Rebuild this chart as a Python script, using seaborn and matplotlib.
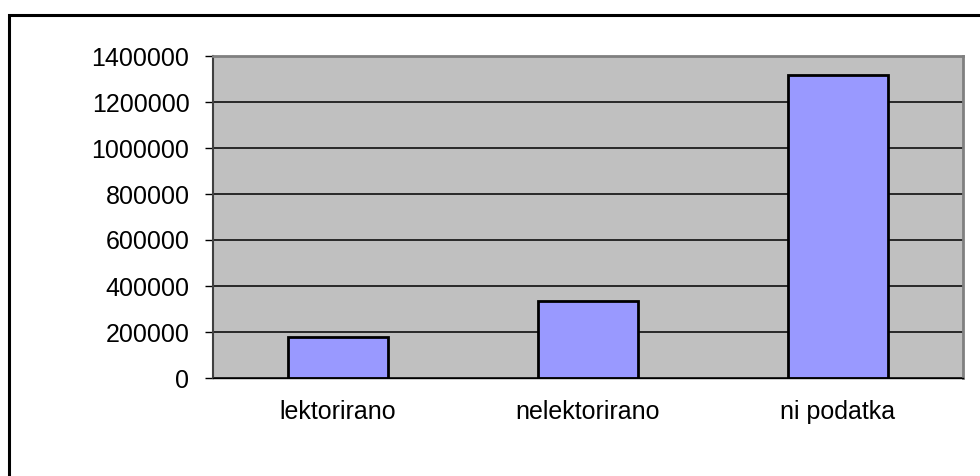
import numpy as np
import pandas as pd
import seaborn as sns
import matplotlib.pyplot as plt
from matplotlib.patches import Rectangle

categories = ["lektorirano", "nelektorirano", "ni podatka"]
values = [177000, 336000, 1317000]
y_ticks = [0, 200000, 400000, 600000, 800000, 1000000, 1200000, 1400000]

df = pd.DataFrame({"kategorija": categories, "stevilo": values})

sns.set_style("white")
plt.rcParams["font.family"] = ["Liberation Sans", "DejaVu Sans"]

fig = plt.figure(figsize=(9.8, 4.76), dpi=100)
ax = fig.add_axes([213 / 980, 1 - 378 / 476, 750 / 980, 322 / 476])

# outer chart border (runs off the right and bottom edge)
fig.patches.append(Rectangle((9 / 980, -0.1), 1.2, 1 - 15 / 476 + 0.1,
                             transform=fig.transFigure, fill=False,
                             edgecolor="black", linewidth=2.2, zorder=0))

ax.set_facecolor("#C0C0C0")
ax.set_axisbelow(True)
ax.yaxis.grid(True, color="black", linewidth=1.1)

sns.barplot(data=df, x="kategorija", y="stevilo", width=0.4, color="#9999FF",
            edgecolor="black", linewidth=2, saturation=1, ax=ax)

ax.set_xlim(-0.5, 2.5)
ax.set_ylim(0, 1400000)
ax.set_yticks(y_ticks)
ax.set_yticklabels([str(v) for v in y_ticks])
ax.set_xticks([-0.5, 0.5, 1.5, 2.5], minor=True)
ax.tick_params(axis="x", which="major", length=0, pad=16, labelsize=18, labelcolor="black")
ax.tick_params(axis="x", which="minor", length=6, width=1, direction="out", color="black")
ax.tick_params(axis="y", length=6, width=1, direction="out", pad=11, labelsize=18,
               color="black", labelcolor="black", left=True)
ax.set_xlabel("")
ax.set_ylabel("")

for side in ["top", "right"]:
    ax.spines[side].set_color("#808080")
    ax.spines[side].set_linewidth(2)
ax.spines["left"].set_color("#404040")
ax.spines["left"].set_linewidth(1.5)
ax.spines["bottom"].set_color("black")
ax.spines["bottom"].set_linewidth(1)

fig.savefig("out.png", dpi=100)
